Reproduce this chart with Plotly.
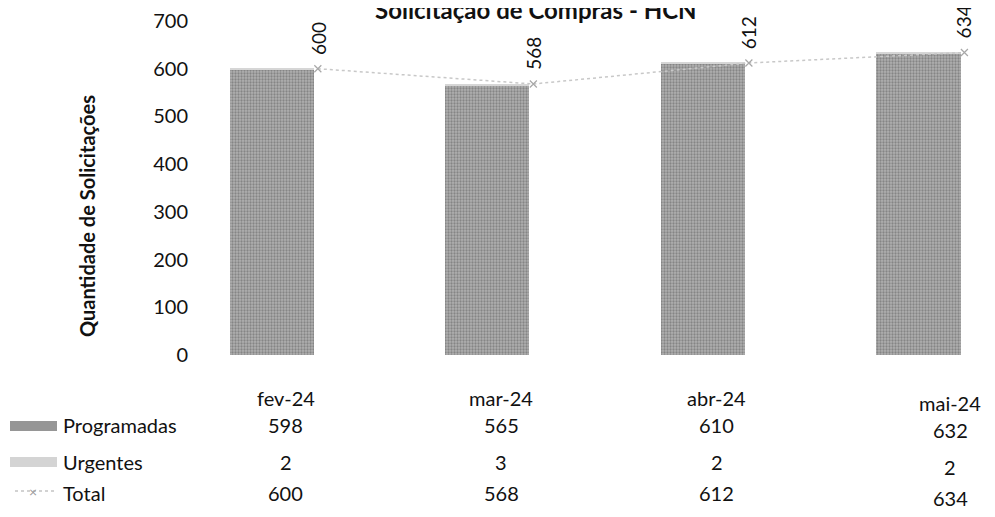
import plotly.graph_objects as go

# ---- data ----
months = ["fev-24", "mar-24", "abr-24", "mai-24"]
programadas = [598, 565, 610, 632]
urgentes = [2, 3, 2, 2]
total = [600, 568, 612, 634]
row_names = ["Programadas", "Urgentes", "Total"]
y_ticks = [0, 100, 200, 300, 400, 500, 600, 700]

FONT = "Lato"
TXT = "#111111"
idx = list(range(len(months)))
line_off = 0.213  # total markers sit at right edge of bars

fig = go.Figure()
fig.add_trace(go.Bar(
    x=idx, y=programadas, width=0.39, name="Programadas",
    marker=dict(color="#9a9a9a", line=dict(width=0),
                pattern=dict(shape=".", fgcolor="#5a5a5a", bgcolor="#b0b0b0", size=3, solidity=0.45)),
))
fig.add_trace(go.Bar(
    x=idx, y=urgentes, width=0.39, name="Urgentes",
    marker=dict(color="#d6d6d6", line=dict(width=0)),
))
fig.add_trace(go.Scatter(
    x=[i + line_off for i in idx], y=total, mode="lines+markers", name="Total",
    line=dict(color="#c8c8c8", width=1.5, dash="dot"),
    marker=dict(symbol="x-thin", size=7, line=dict(color="#a8a8a8", width=1.2)),
    cliponaxis=False,
))

ann = []
# data labels (rotated) above total markers
for i, v in zip(idx, total):
    ann.append(dict(x=i + line_off, y=v, xref="x", yref="y", text=str(v), textangle=-90,
                    showarrow=False, yanchor="bottom", xanchor="center", yshift=12,
                    font=dict(family=FONT, size=19, color=TXT)))

# data table
row_y = [-43, -70, -107, -138]
for i, m in enumerate(months):
    vals = [m, str(programadas[i]), str(urgentes[i]), str(total[i])]
    for r, t in enumerate(vals):
        ann.append(dict(x=i, y=0, xref="x", yref="paper", text=t, showarrow=False,
                        xanchor="center", yanchor="middle", xshift=14 + (18 if i == 3 else 0),
                        yshift=row_y[r] - (5 if i == 3 else 0),
                        font=dict(family=FONT, size=20, color=TXT)))
for r, name in enumerate(row_names):
    ann.append(dict(x=0, y=0, xref="paper", yref="paper", text=name, showarrow=False,
                    xanchor="left", yanchor="middle", xshift=-134, yshift=row_y[r + 1],
                    font=dict(family=FONT, size=20, color=TXT)))
# total legend marker
ann.append(dict(x=0, y=0, xref="paper", yref="paper", text="×", showarrow=False,
                xanchor="center", yanchor="middle", xshift=-162, yshift=-136,
                font=dict(family=FONT, size=14, color="#9a9a9a")))

# title (partly cut off at the top, as in the reference)
ann.append(dict(x=0.426, y=1, xref="paper", yref="paper", text="<b>Solicitação de Compras - HCN</b>",
                showarrow=False, xanchor="center", yanchor="middle", yshift=12,
                font=dict(family=FONT, size=24, color=TXT)))
# y axis title
ann.append(dict(x=0, y=0.5, xref="paper", yref="paper", text="<b>Quantidade de Solicitações</b>",
                showarrow=False, textangle=-90, xanchor="center", yanchor="middle", xshift=-108, yshift=-28,
                font=dict(family=FONT, size=20, color=TXT)))

shapes = [
    dict(type="rect", xref="paper", yref="paper", xsizemode="pixel", ysizemode="pixel",
         xanchor=0, yanchor=0, x0=-185, x1=-138, y0=-76, y1=-66,
         fillcolor="#969696", line=dict(width=0)),
    dict(type="rect", xref="paper", yref="paper", xsizemode="pixel", ysizemode="pixel",
         xanchor=0, yanchor=0, x0=-185, x1=-138, y0=-112, y1=-102,
         fillcolor="#d4d4d4", line=dict(width=0)),
    dict(type="line", xref="paper", yref="paper", xsizemode="pixel", ysizemode="pixel",
         xanchor=0, yanchor=0, x0=-180, x1=-138, y0=-136, y1=-136,
         line=dict(color="#c4c4c4", width=1.5, dash="dot")),
]

# page body has an 8px default margin: size the figure so it fits the 995x517 window
fig.update_layout(
    width=987, height=509, barmode="stack", showlegend=False,
    paper_bgcolor="white", plot_bgcolor="white",
    margin=dict(l=187, r=0, t=7, b=162),
    font=dict(family=FONT, size=20, color=TXT),
    xaxis=dict(range=[-0.357, 3.355], showticklabels=False, showgrid=False, zeroline=False,
               showline=False, ticks=""),
    yaxis=dict(range=[0, 700], tickvals=y_ticks, showgrid=False, zeroline=False, showline=False,
               ticks="", ticklabelstandoff=6, ticklabeloverflow="allow",
               tickfont=dict(family=FONT, size=20, color=TXT)),
    annotations=ann, shapes=shapes,
)

fig.write_html("out.html")
